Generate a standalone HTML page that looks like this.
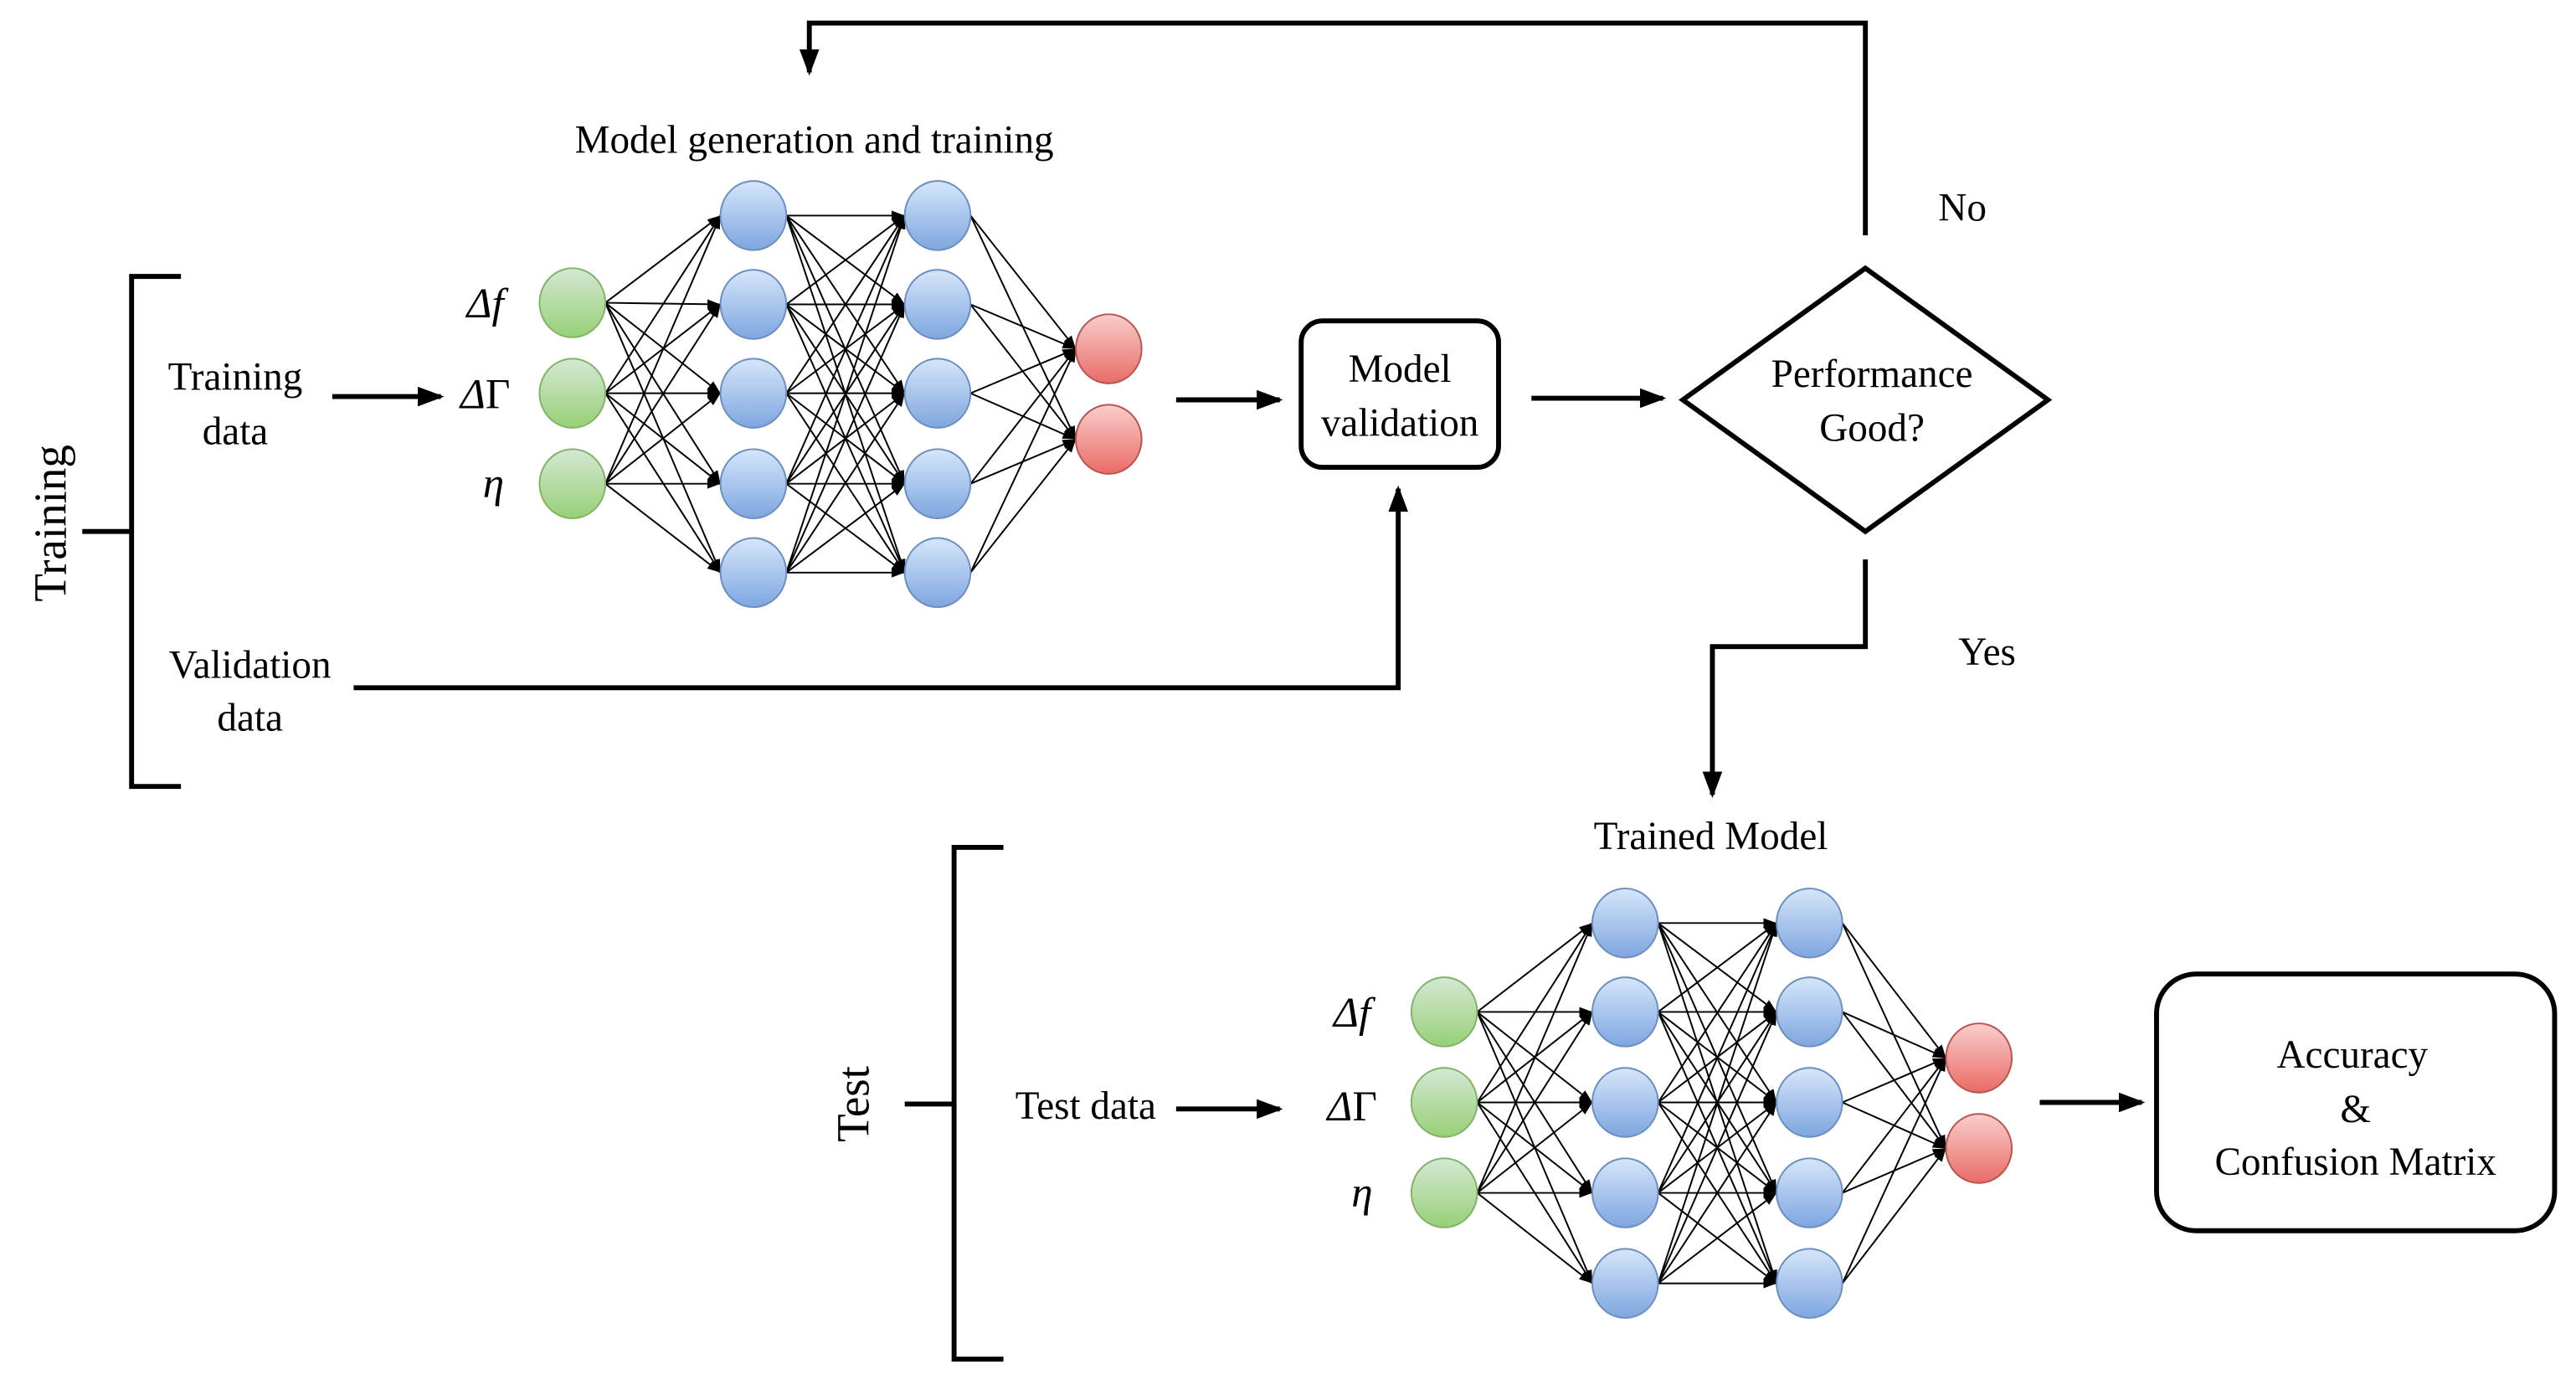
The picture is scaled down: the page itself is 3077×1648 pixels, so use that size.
<!DOCTYPE html>
<html><head><meta charset="utf-8"><style>
html,body{margin:0;padding:0;background:#fff}
svg{display:block}
text{font-family:"Liberation Serif","Times New Roman","DejaVu Serif",serif;fill:#000}
</style></head><body>
<svg id="s" width="3077" height="1648" viewBox="0 0 1566 838.7" xmlns="http://www.w3.org/2000/svg">
<defs>
<linearGradient id="gb" x1="0" y1="0" x2="0" y2="1"><stop offset="0" stop-color="#d6e6fa"/><stop offset="1" stop-color="#7ea6e0"/></linearGradient>
<linearGradient id="gg" x1="0" y1="0" x2="0" y2="1"><stop offset="0" stop-color="#d5e8d4"/><stop offset="1" stop-color="#97d077"/></linearGradient>
<linearGradient id="gr" x1="0" y1="0" x2="0" y2="1"><stop offset="0" stop-color="#f8cecc"/><stop offset="1" stop-color="#ea6b66"/></linearGradient>
<marker id="sa" markerWidth="8" markerHeight="6" refX="8" refY="3" orient="auto" markerUnits="userSpaceOnUse"><path d="M0,0 L8,3 L0,6 z" fill="#000"/></marker>
<marker id="ba" markerWidth="16" markerHeight="12" refX="14" refY="6" orient="auto" markerUnits="userSpaceOnUse"><path d="M0,0 L16,6 L0,12 z" fill="#000"/></marker>
</defs>
<g id="lines" stroke="#000" stroke-width="1" fill="none"></g>
<g id="nodes"></g>
<g stroke="#000" stroke-width="3" fill="none">
<polyline points="1134,143 1134,14 492,14 492,44" marker-end="url(#ba)"/>
<polyline points="110,168 80,168 80,478 110,478"/>
<line x1="50" y1="323" x2="80" y2="323"/>
<line x1="202" y1="241" x2="268" y2="241" marker-end="url(#ba)"/>
<line x1="715" y1="243" x2="778" y2="243" marker-end="url(#ba)"/>
<rect x="791" y="195" width="120" height="89" rx="13"/>
<line x1="931" y1="242" x2="1011" y2="242" marker-end="url(#ba)"/>
<polygon points="1134,163 1245,243 1134,323 1023,243"/>
<polyline points="1134,340 1134,393 1041,393 1041,483" marker-end="url(#ba)"/>
<polyline points="215,418 850,418 850,297" marker-end="url(#ba)"/>
<polyline points="610,515 580,515 580,826 610,826"/>
<line x1="550" y1="671" x2="580" y2="671"/>
<line x1="715" y1="674" x2="778" y2="674" marker-end="url(#ba)"/>
<line x1="1240" y1="670" x2="1302" y2="670" marker-end="url(#ba)"/>
<rect x="1311" y="592" width="242" height="156" rx="24"/>
</g>
<g font-size="24" font-family="Liberation Serif, Times New Roman, serif">
<text x="495" y="93" text-anchor="middle">Model generation and training</text>
<text x="143" y="237" text-anchor="middle">Training</text>
<text x="143" y="270" text-anchor="middle">data</text>
<text x="152" y="412" text-anchor="middle">Validation</text>
<text x="152" y="444" text-anchor="middle">data</text>
<text x="851" y="232" text-anchor="middle">Model</text>
<text x="851" y="265" text-anchor="middle">validation</text>
<text x="1138" y="235" text-anchor="middle">Performance</text>
<text x="1138" y="268" text-anchor="middle">Good?</text>
<text x="1193" y="134" text-anchor="middle">No</text>
<text x="1208" y="404" text-anchor="middle">Yes</text>
<text x="1040" y="516" text-anchor="middle">Trained Model</text>
<text x="660" y="680" text-anchor="middle">Test data</text>
<text x="1430" y="649" text-anchor="middle">Accuracy</text>
<text x="1432" y="682" text-anchor="middle">&amp;</text>
<text x="1432" y="714" text-anchor="middle">Confusion Matrix</text>
<text transform="translate(40,318) rotate(-90)" text-anchor="middle" font-size="28">Training</text>
<text transform="translate(528,671) rotate(-90)" text-anchor="middle" font-size="28">Test</text>
</g>
<g font-size="26" font-family="DejaVu Serif, serif">
<text x="295" y="193" text-anchor="middle"><tspan font-style="italic">Δf</tspan></text>
<text x="295" y="248" text-anchor="middle"><tspan font-style="italic">Δ</tspan>Γ</text>
<text x="300" y="302" text-anchor="middle" font-style="italic">η</text>
<text x="822" y="624" text-anchor="middle" font-style="italic">Δf</text>
<text x="822" y="681" text-anchor="middle"><tspan font-style="italic">Δ</tspan>Γ</text>
<text x="828" y="733" text-anchor="middle" font-style="italic">η</text>
</g>
<script>
(function(){
var NS="http://www.w3.org/2000/svg";
var L=document.getElementById("lines"),N=document.getElementById("nodes");
function net(xs,ysIn,ysH,ysO){
 var layers=[[xs[0],ysIn,"gg","#82b366"],[xs[1],ysH,"gb","#6c8ebf"],[xs[2],ysH,"gb","#6c8ebf"],[xs[3],ysO,"gr","#b85450"]];
 var rx=20,ry=21;
 for(var l=0;l<3;l++){
  var a=layers[l],b=layers[l+1];
  a[1].forEach(function(y1){b[1].forEach(function(y2){
   var e=document.createElementNS(NS,"line");
   e.setAttribute("x1",a[0]+rx);e.setAttribute("y1",y1);
   e.setAttribute("x2",b[0]-rx);e.setAttribute("y2",y2);
   e.setAttribute("marker-end","url(#sa)");L.appendChild(e);});});
 }
 layers.forEach(function(ly){ly[1].forEach(function(y){
  var c=document.createElementNS(NS,"ellipse");
  c.setAttribute("cx",ly[0]);c.setAttribute("cy",y);c.setAttribute("rx",rx);c.setAttribute("ry",ry);
  c.setAttribute("fill","url(#"+ly[2]+")");c.setAttribute("stroke",ly[3]);c.setAttribute("stroke-width","1");
  N.appendChild(c);});});
}
net([348,458,570,674],[184,239,294],[131,185,239,294,348],[212,267]);
net([878,988,1100,1203],[615,670,725],[561,615,670,725,780],[643,698]);
})();
</script>
</svg>
</body></html>
